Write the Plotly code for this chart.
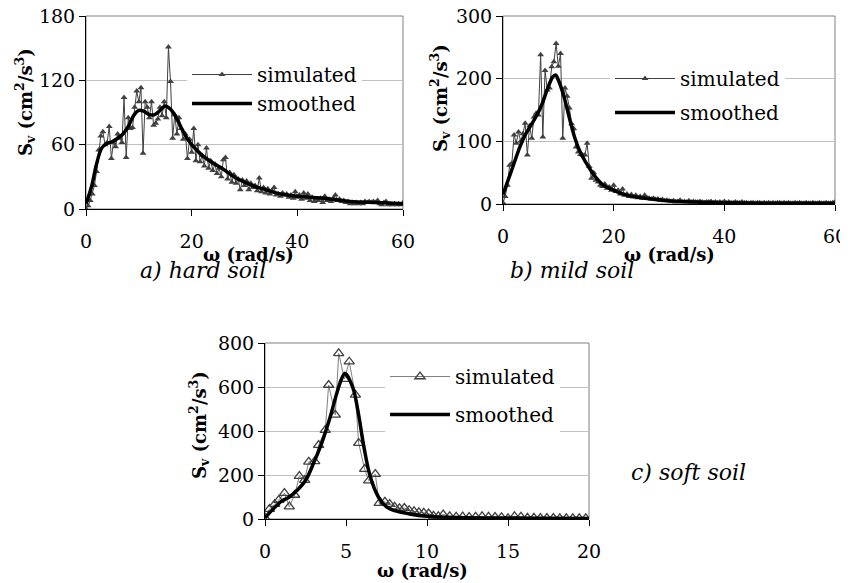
import plotly.graph_objects as go

FONT = "DejaVu Serif"
DARK = "#404040"

# ---------------- data ----------------
a_sim_dw = 0.4
a_sim = [0, 3, 8, 14, 22, 35, 55, 68, 72, 60, 62, 77, 47, 62, 58, 70, 66, 62, 104, 48,
         85, 75, 76, 95, 110, 100, 113, 52, 100, 95, 85, 100, 78, 80, 84, 95, 87, 100, 85, 151,
         119, 66, 88, 70, 85, 75, 65, 70, 47, 65, 53, 75, 45, 60, 44, 50, 40, 57, 38, 45,
         36, 42, 33, 38, 30, 46, 48, 28, 34, 25, 32, 24, 28, 18, 27, 22, 26, 18, 24, 20,
         22, 17, 29, 16, 20, 15, 19, 14, 17, 20, 13, 14, 12, 15, 13, 14, 11, 13, 10, 16,
         11, 13, 9, 15, 10, 14, 8, 11, 7, 9, 8, 10, 6, 12, 8, 9, 7, 10, 13, 8,
         9, 7, 8, 6, 7, 5, 6, 5, 6, 5, 6, 5, 7, 6, 7, 6, 7, 6, 8, 5,
         4, 6, 7, 4, 5, 4, 5, 4, 5, 4, 6, 5]
a_smooth_w = [0, 1, 2, 3, 4, 5, 6, 7, 8, 9, 10, 11, 12, 13, 14, 15, 16, 17, 18, 19, 20,
              22, 24, 26, 28, 30, 32, 34, 36, 38, 40, 45, 50, 55, 60]
a_smooth = [5, 20, 42, 57, 61, 63, 66, 70, 77, 87, 92, 91, 88, 88, 92, 96, 93, 86, 76, 67, 60,
            50, 43, 37, 30, 25, 21, 18, 15, 13, 12, 10, 7, 6, 5]

b_sim_dw = 0.4
b_sim = [2, 12, 30, 62, 65, 110, 97, 115, 100, 112, 129, 78, 125, 105, 139, 145, 142, 238, 107, 213,
         182, 185, 219, 227, 256, 220, 240, 105, 185, 172, 153,
         128, 120, 91, 83, 79, 78, 78, 97, 60, 41, 50, 38, 35, 30, 28, 32, 25, 27, 22, 30,
         20, 22, 16, 24, 14, 16, 12, 15, 11, 14, 10, 12, 9, 14, 10, 9, 8, 9, 7, 8,
         6, 7, 5, 6, 5,
         4, 5, 3, 4, 6, 3, 4, 3, 5, 3, 4, 3, 3, 4, 3, 2, 3, 3, 4, 2,
         3, 2, 3, 2, 4, 2, 3, 2, 2, 3, 2, 2, 3, 2, 2, 1, 2, 2, 1, 2,
         2, 1, 2, 1, 2, 1, 2, 1, 2, 2, 1, 2, 1, 2, 1, 1, 2, 1, 2, 1,
         1, 2, 1, 1, 2, 1, 1, 2, 1, 1, 2, 1, 1, 2, 3]
b_smooth_w = [0, 1, 2, 3, 4, 5, 6, 7, 8, 9, 9.5, 10, 11, 12, 13, 14, 15, 16, 17, 18, 20, 22,
              25, 30, 35, 40, 50, 60]
b_smooth = [15, 40, 65, 90, 110, 125, 140, 158, 183, 203, 206, 198, 172, 137, 105, 82, 66, 52,
            40, 31, 22, 15, 10, 5, 3, 2, 1, 1]

c_sim_w = [0, 0.27, 0.6, 0.85, 1.2, 1.5, 1.83, 2.12, 2.45, 2.7, 3.07, 3.31, 3.72, 3.93, 4.34,
           4.55, 4.9, 5.2, 5.58, 5.78, 6.15, 6.4, 6.81, 7.05, 7.4, 7.7, 8.0, 8.3, 8.6, 8.9,
           9.2, 9.5, 9.8, 10.1, 10.4, 10.7, 11.0, 11.4, 11.8, 12.2, 12.6, 13.0, 13.4, 13.8,
           14.2, 14.6, 15.0, 15.4, 15.8, 16.2, 16.6, 17.0, 17.4, 17.8, 18.2, 18.6, 19.0,
           19.4, 19.8]
c_sim = [5, 45, 68, 86, 118, 56, 109, 195, 177, 260, 262, 336, 404, 609, 473, 753, 636, 715,
         564, 345, 227, 174, 204, 72, 78, 68, 55, 48, 50, 40, 35, 30, 28, 25, 14, 12, 20, 12,
         10, 11, 9, 10, 12, 10, 9, 8, 3, 12, 10, 5, 5, 4, 4, 4, 3, 3, 3, 3, 3]
c_smooth_w = [0, 0.5, 1, 1.5, 2, 2.5, 3, 3.5, 4, 4.4, 4.7, 4.92, 5.1, 5.3, 5.5, 5.8, 6.1, 6.5,
              7, 7.5, 8, 9, 10, 12, 15, 20]
c_smooth = [5, 45, 80, 100, 132, 175, 254, 345, 458, 564, 632, 662, 650, 620, 579, 465, 330,
            192, 100, 55, 38, 22, 13, 7, 4, 2]

a_yticks = [0, 60, 120, 180]
b_yticks = [0, 100, 200, 300]
c_yticks = [0, 200, 400, 600, 800]
ab_xticks = [0, 20, 40, 60]
c_xticks = [0, 5, 10, 15, 20]

# ---------------- figure ----------------
PAGE_W, PAGE_H = 848, 583
OFF = 8  # default page body margin
W, H = PAGE_W - OFF, PAGE_H - OFF
def px_x(p):
    return (p - OFF) / W
def px_y(p):
    return 1 - (p - OFF) / H

fig = go.Figure()

panels = [
    ("x", "y", "legend", (86, 403, 16, 209)),
    ("x2", "y2", "legend2", (503, 835, 16, 204)),
    ("x3", "y3", "legend3", (265, 589, 343, 519)),
]

sim_kw = dict(mode="lines+markers", name="simulated",
              line=dict(color=DARK, width=1))
smooth_kw = dict(mode="lines", name="smoothed",
                 line=dict(color="black", width=3.5, shape="spline"))

fig.add_trace(go.Scatter(y=a_sim, x0=0, dx=a_sim_dw, xaxis="x", yaxis="y", legend="legend",
                         legendgroup="a1",
                         marker=dict(symbol="triangle-up", size=6, color=DARK), **sim_kw))
fig.add_trace(go.Scatter(x=a_smooth_w, y=a_smooth, xaxis="x", yaxis="y", legend="legend",
                         legendgroup="a2", **smooth_kw))
fig.add_trace(go.Scatter(y=b_sim, x0=0, dx=b_sim_dw, xaxis="x2", yaxis="y2", legend="legend2",
                         legendgroup="b1",
                         marker=dict(symbol="triangle-up", size=6, color=DARK), **sim_kw))
fig.add_trace(go.Scatter(x=b_smooth_w, y=b_smooth, xaxis="x2", yaxis="y2", legend="legend2",
                         legendgroup="b2", **smooth_kw))
fig.add_trace(go.Scatter(x=c_sim_w, y=c_sim, xaxis="x3", yaxis="y3", legend="legend3",
                         legendgroup="c1",
                         mode="lines+markers", name="simulated",
                         line=dict(color="#808080", width=1),
                         marker=dict(symbol="triangle-up-open", size=9, color=DARK,
                                     line=dict(width=1.3, color=DARK))))
fig.add_trace(go.Scatter(x=c_smooth_w, y=c_smooth, xaxis="x3", yaxis="y3", legend="legend3",
                         legendgroup="c2", **smooth_kw))

tickfont = dict(family=FONT, size=19, color="black")
def xaxis(dom, rng, ticks, anchor):
    return dict(domain=dom, range=rng, tickvals=ticks, ticks="outside", ticklen=6,
                tickcolor="black", showline=True, linecolor="black", linewidth=1,
                showgrid=False, zeroline=False, tickfont=tickfont, anchor=anchor,
                automargin=False, ticklabelstandoff=9, ticklabeloverflow="allow")
def yaxis(dom, rng, ticks, anchor):
    return dict(domain=dom, range=rng, tickvals=ticks, ticks="outside", ticklen=6,
                tickcolor="black", showline=True, linecolor="black", linewidth=1,
                showgrid=True, gridcolor="#c0c0c0", gridwidth=1, zeroline=False,
                tickfont=tickfont, anchor=anchor, automargin=False,
                ticklabeloverflow="allow")

lay = {}
ranges = [([0, 60], ab_xticks, [0, 180], a_yticks),
          ([0, 60], ab_xticks, [0, 300], b_yticks),
          ([0, 20], c_xticks, [0, 800], c_yticks)]
shapes = []
for i, ((xa, ya, lg, (x0, x1, yt, yb)), (xr, xt, yr, yt_)) in enumerate(zip(panels, ranges)):
    sfx = "" if i == 0 else str(i + 1)
    lay["xaxis" + sfx] = xaxis([px_x(x0), px_x(x1)], xr, xt, ya)
    lay["yaxis" + sfx] = yaxis([px_y(yb), px_y(yt)], yr, yt_, xa)
    shapes.append(dict(type="rect", xref="paper", yref="paper",
                       x0=px_x(x0), x1=px_x(x1), y0=px_y(yb), y1=px_y(yt),
                       line=dict(color="#808080", width=1), layer="below"))

legfont = dict(family=FONT, size=20, color="black")
def legend(xp, yp, gap):
    return dict(x=px_x(xp), y=px_y(yp), xanchor="left", yanchor="top", bgcolor="white",
                borderwidth=0, font=legfont, itemclick=False, itemwidth=60,
                tracegroupgap=gap)

lay["legend"] = legend(187, 55, 0)
lay["legend2"] = legend(610, 59, 5)
lay["legend3"] = legend(385, 357, 9)

ytitle = "<b>S<sub>v</sub> (cm<sup>2</sup>/s<sup>3</sup>)</b>"
xtitle = "<b>ω (rad/s)</b>"
tfont = dict(family=FONT, size=18, color="black")
capfont = dict(family=FONT, size=22, color="black")
annotations = [
    dict(text=ytitle, x=px_x(25), y=px_y(102), textangle=-90, font=tfont),
    dict(text=ytitle, x=px_x(440), y=px_y(98), textangle=-90, font=tfont),
    dict(text=ytitle, x=px_x(199), y=px_y(425), textangle=-90, font=tfont),
    dict(text=xtitle, x=px_x(248), y=px_y(255), font=tfont),
    dict(text=xtitle, x=px_x(669), y=px_y(255), font=tfont),
    dict(text=xtitle, x=px_x(422), y=px_y(570), font=tfont),
    dict(text="<i>a) hard soil</i>", x=px_x(203), y=px_y(270), font=capfont),
    dict(text="<i>b) mild soil</i>", x=px_x(572), y=px_y(270), font=capfont),
    dict(text="<i>c) soft soil</i>", x=px_x(688), y=px_y(472), font=capfont),
]
for a in annotations:
    a.update(xref="paper", yref="paper", showarrow=False, xanchor="center", yanchor="middle")

fig.update_layout(width=W, height=H, margin=dict(l=0, r=0, t=0, b=0),
                  template="none", font=dict(family=FONT),
                  paper_bgcolor="white", plot_bgcolor="white", showlegend=True,
                  shapes=shapes, annotations=annotations, **lay)

fig.write_html("out.html")
